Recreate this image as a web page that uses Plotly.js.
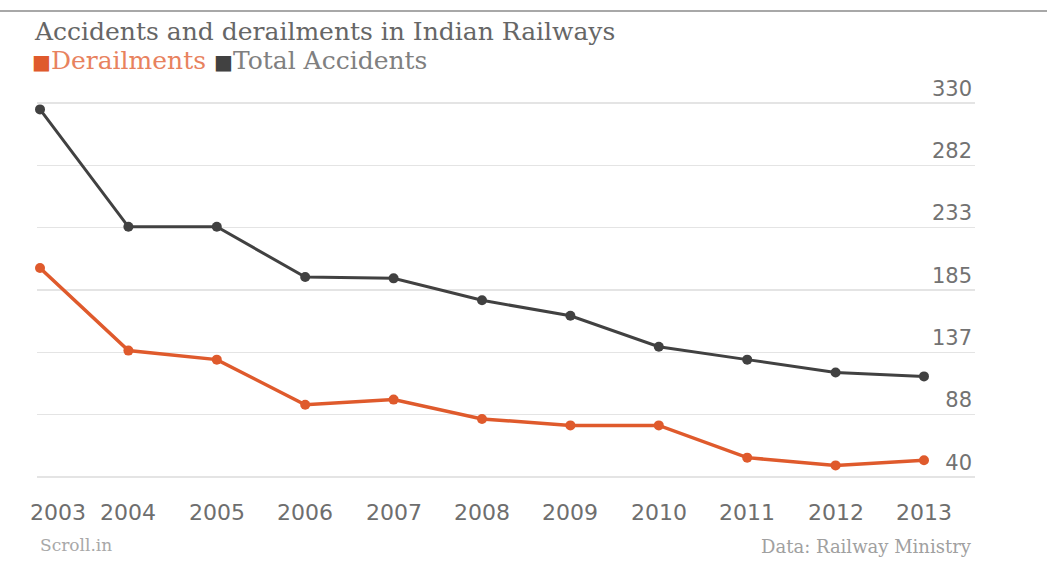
<!DOCTYPE html>
<html>
<head>
<meta charset="utf-8">
<script src="https://cdn.plot.ly/plotly-3.0.1.min.js"></script>
<style>html,body{margin:0;padding:0;background:#fff;}#chart{width:1047px;height:571px;}</style>
</head>
<body>
<div id="chart"></div>
<script>
const years = [2003, 2004, 2005, 2006, 2007, 2008, 2009, 2010, 2011, 2012, 2013];
const derailments = [202, 138, 131, 96, 100, 85, 80, 80, 55, 49, 53];
const totalAccidents = [325, 234, 234, 195, 194, 177, 165, 141, 131, 121, 118];
const yTickVals = [40, 88.33, 136.67, 185, 233.33, 281.67, 330];
const yTickText = ["40", "88", "137", "185", "233", "282", "330"];
const yearLabels = ["2003", "2004", "2005", "2006", "2007", "2008", "2009", "2010", "2011", "2012", "2013"];

const orange = "#df5a2c";
const dark = "#414141";

const traces = [
  {x: years, y: totalAccidents, type: "scatter", mode: "lines+markers", name: "Total Accidents",
   line: {color: dark, width: 3}, marker: {color: dark, size: 10}, cliponaxis: false, hoverinfo: "x+y"},
  {x: years, y: derailments, type: "scatter", mode: "lines+markers", name: "Derailments",
   line: {color: orange, width: 3.5}, marker: {color: orange, size: 10}, cliponaxis: false, hoverinfo: "x+y"}
];

const annotations = yearLabels.map((t, i) => ({
  x: years[i], y: 0, xref: "x", yref: "paper", yshift: -33, yanchor: "middle",
  text: t, showarrow: false,
  xanchor: i === 0 ? "left" : "center", xshift: i === 0 ? -12 : 0,
  font: {family: "DejaVu Sans", size: 22, color: "#6e6e6e"}
}));

annotations.push(
  {x: 32, y: 31, xref: "pixel", yref: "pixel", text: "Accidents and derailments in Indian Railways",
   showarrow: false, xanchor: "left", yanchor: "middle",
   font: {family: "DejaVu Serif", size: 25, color: "#666666"}},
  {x: 30, y: 61, xref: "pixel", yref: "pixel",
   text: "<span style='color:" + orange + ";font-size:20px'>■</span><span style='color:#e8825e'>Derailments</span> <span style='color:" + dark + ";font-size:20px'>■</span><span style='color:#808080'>Total Accidents</span>",
   showarrow: false, xanchor: "left", yanchor: "middle",
   font: {family: "DejaVu Serif", size: 25, color: "#808080"}},
  {x: 38, y: 545, xref: "pixel", yref: "pixel", text: "Scroll.in",
   showarrow: false, xanchor: "left", yanchor: "middle",
   font: {family: "DejaVu Serif", size: 17, color: "#a8a8a8"}},
  {x: 974, y: 546, xref: "pixel", yref: "pixel", text: "Data: Railway Ministry",
   showarrow: false, xanchor: "right", yanchor: "middle",
   font: {family: "DejaVu Serif", size: 18, color: "#a0a0a0"}}
);

// convert pixel-positioned annotations to paper coordinates
const W = 1047, H = 571;
const M = {l: 37, r: 72, t: 80, b: 92};
const pw = W - M.l - M.r, ph = H - M.t - M.b;
annotations.forEach(a => {
  if (a.xref === "pixel") { a.xref = "paper"; a.x = (a.x - M.l) / pw; }
  if (a.yref === "pixel") { a.yref = "paper"; a.y = (H - M.b - a.y) / ph; }
});

const layout = {
  width: W, height: H,
  margin: M,
  paper_bgcolor: "#ffffff", plot_bgcolor: "#ffffff",
  showlegend: false,
  xaxis: {range: [2002.966, 2013.577], showgrid: false, zeroline: false, showline: false,
          showticklabels: false, ticks: "", fixedrange: true},
  yaxis: {range: [38.45, 347.8], side: "right", tickvals: yTickVals, ticktext: yTickText,
          ticklabelposition: "inside top", ticklabeloverflow: "allow",
          showgrid: true, gridcolor: "#e4e4e4", gridwidth: 1.5,
          zeroline: false, showline: false, ticks: "", fixedrange: true,
          tickfont: {family: "DejaVu Sans", size: 21, color: "#727272"}},
  shapes: [
    {type: "line", xref: "paper", yref: "paper", x0: (0 - M.l) / pw, x1: (W - M.l) / pw,
     y0: (H - M.b - 11) / ph, y1: (H - M.b - 11) / ph, line: {color: "#a8a8a8", width: 2}}
  ],
  annotations: annotations
};

Plotly.newPlot("chart", traces, layout, {displayModeBar: false, staticPlot: true});
</script>
</body>
</html>
